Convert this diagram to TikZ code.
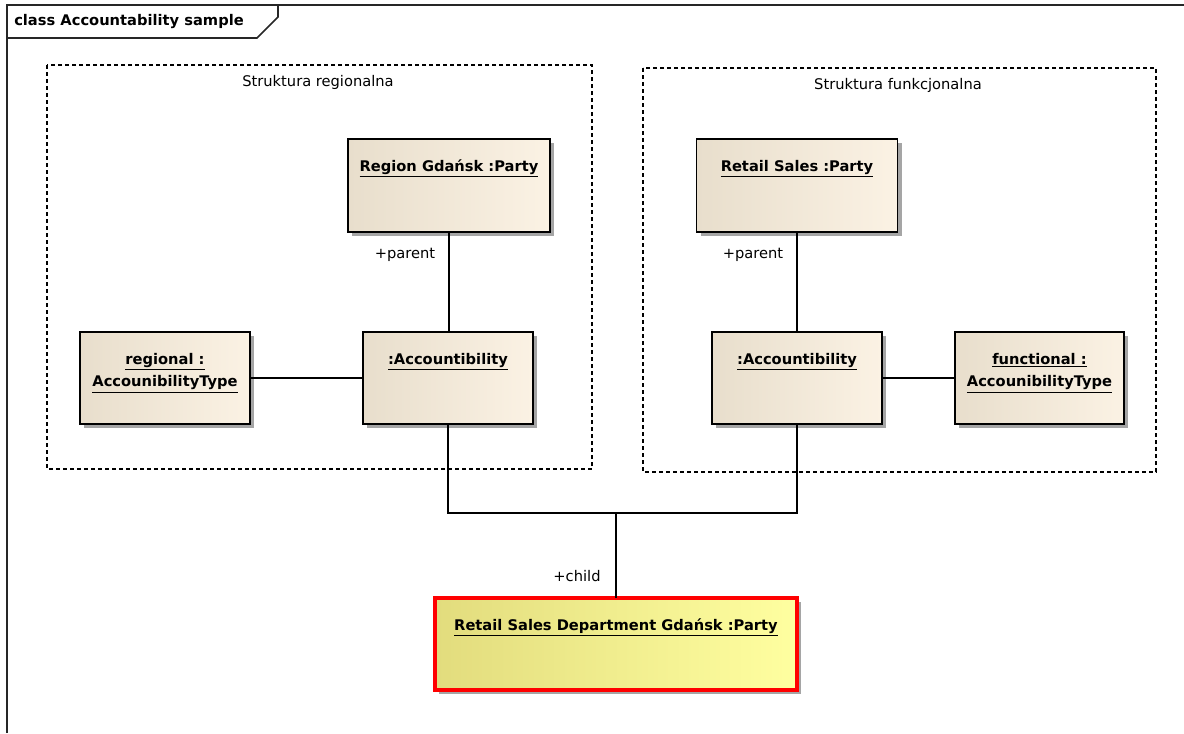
\documentclass[tikz,border=0pt]{standalone}
\usepackage{fontspec}
\setmainfont{DejaVu Sans}
\usetikzlibrary{shadows}
\definecolor{partyL}{RGB}{232,222,204}
\definecolor{partyR}{RGB}{251,242,228}
\definecolor{deptL}{RGB}{226,220,125}
\definecolor{deptR}{RGB}{255,255,160}
\definecolor{shadowgray}{RGB}{165,165,165}
\newcommand{\objname}[1]{\underline{\textbf{#1}}}
\tikzset{
  obj/.style={draw=black, line width=1pt, left color=partyL, right color=partyR,
    general shadow={fill=shadowgray, shadow xshift=3pt, shadow yshift=-3pt},
    inner sep=0pt, outer sep=0pt},
  objtext/.style={anchor=north, inner sep=0pt, yshift=-15.5pt, align=center, text=black},
  region/.style={draw=black, line width=0.8pt, dash pattern=on 3pt off 2.25pt},
  link/.style={draw=black, line width=0.9pt},
}
\begin{document}
\begin{tikzpicture}[x=0.75pt, y=-0.75pt, font=\fontsize{11}{17}\selectfont]
\useasboundingbox (0,0) rectangle (1184,733);
% frame
\draw [line width=1.3pt, draw=black!85] (7,733)--(7,5)--(1184,5);
\draw [line width=1.3pt, draw=black!85] (7,38)--(257,38)--(278,17)--(278,5);
\node (title) [anchor=west, inner sep=0pt] at (14,22) {\textbf{class Accountability sample}};
% packages
\draw [region] (47,65) rectangle (592,469);
\node (regname) at (318,82) {Struktura regionalna};
\draw [region] (643,68) rectangle (1156,472);
\node (funname) at (898,85) {Struktura funkcjonalna};
% objects
\node (regP) [obj, minimum width=151.5pt, minimum height=69.75pt,
  label={[objtext]north:\objname{Region Gdańsk :Party}}] at (449,185.5) {};
\node (retP) [obj, minimum width=150.75pt, minimum height=69.75pt,
  label={[objtext]north:\objname{Retail Sales :Party}}] at (797,185.5) {};
\node (accL) [obj, minimum width=127.5pt, minimum height=69pt,
  label={[objtext]north:\objname{:Accountibility}}] at (448,378) {};
\node (regT) [obj, minimum width=127.5pt, minimum height=69pt,
  label={[objtext]north:\objname{regional :}\\\objname{AccounibilityType}}] at (165,378) {};
\node (accR) [obj, minimum width=127.5pt, minimum height=69pt,
  label={[objtext]north:\objname{:Accountibility}}] at (797,378) {};
\node (funT) [obj, minimum width=126.75pt, minimum height=69pt,
  label={[objtext]north:\objname{functional :}\\\objname{AccounibilityType}}] at (1039.5,378) {};
\node (dept) [obj, draw=red, line width=3pt, left color=deptL, right color=deptR,
  minimum width=271.5pt, minimum height=69pt,
  label={[objtext]north:\objname{Retail Sales Department Gdańsk :Party}}] at (616,644) {};
% connectors
\draw [link] (regP.south) -- (regP.south |- accL.north);
\draw [link] (retP.south) -- (retP.south |- accR.north);
\draw [link] (regT) -- (accL);
\draw [link] (accR) -- (funT);
\coordinate (jn) at (616,513);
\draw [link] (accL.south) |- (jn) -| (accR.south);
\draw [link] (jn) -- (dept.north);
\node (parL) at (405,255) {+parent};
\node (parR) at (753,255) {+parent};
\node (chd) at (577,576) {+child};
\end{tikzpicture}
\end{document}
